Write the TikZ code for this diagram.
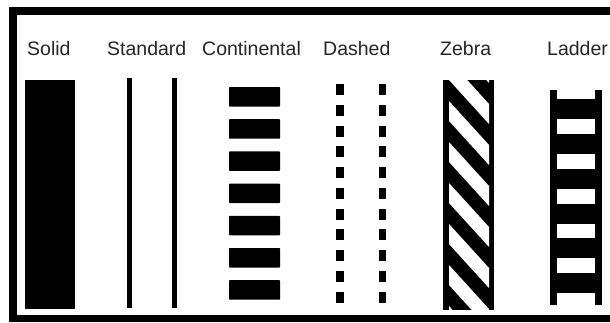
\documentclass[tikz,border=0pt]{standalone}
\usepackage{fontspec}
\setmainfont{Liberation Sans}
\begin{document}
\begin{tikzpicture}[x=1pt,y=-1pt,
  lbl/.style={anchor=base west, inner sep=0pt, text=black!85, font=\fontsize{19.5}{22}\selectfont},
  ink/.style={fill=black}]
\useasboundingbox (0,0) rectangle (610,322);
\fill[white] (0,0) rectangle (610,322);
% frame
\fill[ink] (9,7) rectangle (610,15);
\fill[ink] (9,7) rectangle (17,322);
\fill[ink] (9,315) rectangle (610,322);
% labels
\node[lbl] (solid) at (27,55) {Solid};
\node[lbl] (standard) at (107,55) {Standard};
\node[lbl] (continental) at (202,55) {Continental};
\node[lbl] (dashed) at (323,55) {Dashed};
\node[lbl] (zebra) at (440,55) {Zebra};
\node[lbl] (ladder) at (547,55) {Ladder};
% solid
\fill[ink] (25,80) rectangle (75,309);
% standard
\fill[ink] (127,78) rectangle (132,308);
\fill[ink] (171.5,78) rectangle (176.5,308);
% continental
\foreach \i in {0,...,6}
  \fill[ink, rounded corners=0.7pt] (229,{87+32.2*\i}) rectangle (280,{106.5+32.2*\i});
% dashed
\foreach \i in {0,...,10} {
  \fill[ink] (336,{84+20.75*\i}) rectangle (343.5,{95+20.75*\i});
  \fill[ink] (378.5,{84+20.75*\i}) rectangle (386,{95+20.75*\i});
}
% zebra
\fill[ink] (443,80) rectangle (494,310);
\begin{scope}
  \clip (449,80) rectangle (489,310);
  \foreach \k in {-2,...,6}
    \fill[white] (449,{60+41*\k}) -- (489,{60+41*\k+44}) -- (489,{60+41*\k+64}) -- (449,{60+41*\k+20}) -- cycle;
\end{scope}
% ladder
\fill[ink] (550,90) rectangle (557,305);
\fill[ink] (595,90) rectangle (602,305);
\foreach \y in {99,134,169,203.5,238,273}
  \fill[ink] (550,\y) rectangle (602,{\y+20});
\end{tikzpicture}
\end{document}
